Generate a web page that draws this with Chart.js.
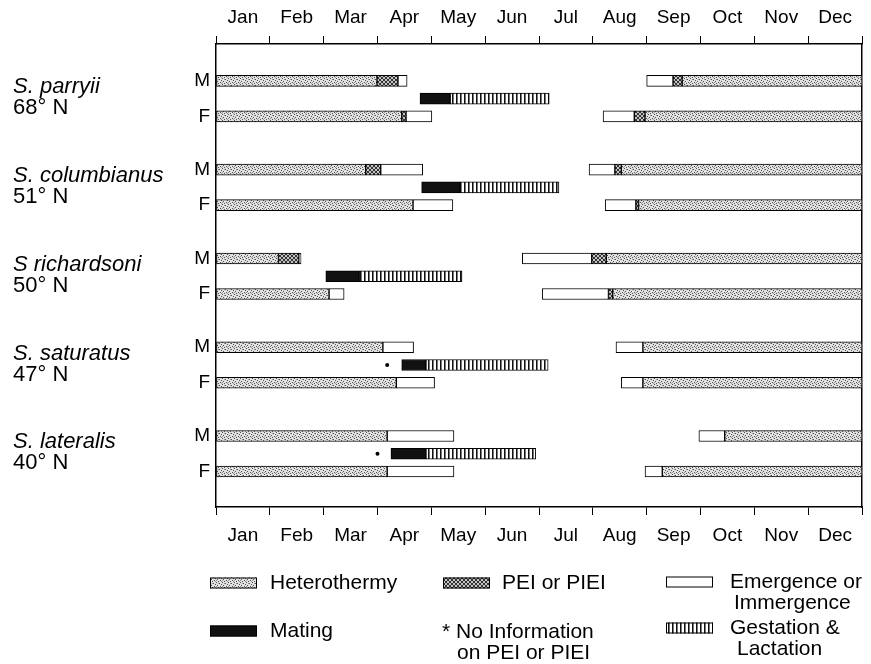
<!DOCTYPE html>
<html>
<head>
<meta charset="utf-8">
<script src="https://cdn.jsdelivr.net/npm/chart.js@4.4.1/dist/chart.umd.min.js"></script>
<style>
    html, body { margin: 0; background: #fff; }
    #wrap { width: 871px; height: 664px; position: relative; }
</style>
</head>
<body>
<div id="wrap"><canvas id="chart"></canvas></div>
<script>
const months = ["Jan", "Feb", "Mar", "Apr", "May", "Jun", "Jul", "Aug", "Sep", "Oct", "Nov", "Dec"];
const species = ["S. parryii", "S. columbianus", "S richardsoni", "S. saturatus", "S. lateralis"];
const latitudes = ["68° N", "51° N", "50° N", "47° N", "40° N"];

// [species, row, start month, end month]; row M = males, R = mating/gestation, F = females
const heterothermy = [
    [0, "M", 0, 2.99], [0, "M", 8.66, 12], [0, "F", 0, 3.45], [0, "F", 7.97, 12],
    [1, "M", 0, 2.78], [1, "M", 7.53, 12], [1, "F", 0, 3.66], [1, "F", 7.85, 12],
    [2, "M", 0, 1.16], [2, "M", 7.25, 12], [2, "F", 0, 2.10], [2, "F", 7.37, 12],
    [3, "M", 0, 3.10], [3, "M", 7.93, 12], [3, "F", 0, 3.35], [3, "F", 7.93, 12],
    [4, "M", 0, 3.18], [4, "M", 9.45, 12], [4, "F", 0, 3.18], [4, "F", 8.29, 12]
];
const pei = [
    [0, "M", 2.99, 3.38], [0, "M", 8.49, 8.66], [0, "F", 3.45, 3.53], [0, "F", 7.77, 7.97],
    [1, "M", 2.78, 3.06], [1, "M", 7.41, 7.53], [1, "F", 7.80, 7.85],
    [2, "M", 1.16, 1.54], [2, "M", 6.98, 7.25], [2, "F", 7.29, 7.37]
];
const emergence = [
    [0, "M", 3.38, 3.55], [0, "M", 8.0, 8.49], [0, "F", 3.53, 4.01], [0, "F", 7.19, 7.77],
    [1, "M", 3.06, 3.84], [1, "M", 6.93, 7.41], [1, "F", 3.66, 4.40], [1, "F", 7.23, 7.80],
    [2, "M", 1.54, 1.58], [2, "M", 5.69, 6.98], [2, "F", 2.10, 2.38], [2, "F", 6.06, 7.29],
    [3, "M", 3.10, 3.67], [3, "M", 7.43, 7.93], [3, "F", 3.35, 4.06], [3, "F", 7.53, 7.93],
    [4, "M", 3.18, 4.42], [4, "M", 8.97, 9.45], [4, "F", 3.18, 4.42], [4, "F", 7.97, 8.29]
];
const mating = [
    [0, "R", 3.79, 4.35], [1, "R", 3.82, 4.53], [2, "R", 2.04, 2.66], [3, "R", 3.45, 3.90], [4, "R", 3.25, 3.90]
];
const gestation = [
    [0, "R", 4.35, 6.19], [1, "R", 4.53, 6.37], [2, "R", 2.66, 4.57], [3, "R", 3.90, 6.17], [4, "R", 3.90, 5.94]
];
// [species, month] of the "*" marks
const noInfo = [[3, 3.18], [4, 3.0]];

const rowOffset = { M: 0, R: 1, F: 2 };
const rowValue = (s, r) => s * 5 + rowOffset[r];
const toBars = (list) => list.map(([s, r, a, b]) => ({ x: [a, b], y: rowValue(s, r) }));

const canvas = document.getElementById("chart");
const ctx = canvas.getContext("2d");

function makePattern(w, h, draw) {
    const c = document.createElement("canvas");
    c.width = w;
    c.height = h;
    draw(c.getContext("2d"));
    return ctx.createPattern(c, "repeat");
}
const dot = (g, x, y, col) => { g.fillStyle = col; g.fillRect(x, y, 1, 1); };

// stipple: scattered dots so no hatch lines appear
const hetFill = makePattern(6, 6, (g) => {
    g.fillStyle = "#e2e2e2"; g.fillRect(0, 0, 6, 6);
    [[0, 0], [3, 1], [1, 3], [4, 4], [5, 2], [2, 5]].forEach(([x, y]) => dot(g, x, y, "#505050"));
    [[2, 1], [5, 5], [0, 4]].forEach(([x, y]) => dot(g, x, y, "#999"));
});
const peiFill = makePattern(4, 4, (g) => {
    g.fillStyle = "#c4c4c4"; g.fillRect(0, 0, 4, 4);
    [[0, 0], [1, 1], [2, 2], [3, 3], [3, 0], [2, 1], [1, 2], [0, 3]].forEach(([x, y]) => dot(g, x, y, "#333"));
});
const gestFill = makePattern(4, 4, (g) => {
    g.fillStyle = "#fff"; g.fillRect(0, 0, 4, 4);
    g.fillStyle = "#111"; g.fillRect(0, 0, 1, 4);
    g.fillStyle = "#777"; g.fillRect(1, 0, 1, 4);
});

const barDefaults = {
    type: "bar",
    indexAxis: "y",
    grouped: false,
    barThickness: 11,
    borderWidth: 1,
    borderColor: "#000",
    borderSkipped: false,
    xAxisID: "x",
    yAxisID: "y"
};

const monthAxis = (position, padding, height) => ({
    type: "linear",
    position: position,
    min: 0,
    max: 12,
    afterBuildTicks: (s) => { s.ticks = months.concat([""]).map((_, i) => ({ value: i })); },
    afterFit: (s) => { s.height = height; },
    ticks: {
        autoSkip: false,
        maxRotation: 0,
        labelOffset: 26.9,
        padding: padding,
        color: "#000",
        font: { size: 19 },
        callback: (v) => months[v] ?? ""
    },
    grid: { drawOnChartArea: false, drawTicks: true, tickLength: 8, color: "#000", lineWidth: 1 },
    border: { display: true, color: "#000", width: 1.5 }
});

const decorPlugin = {
    id: "decor",
    afterDraw(chart) {
        const { ctx: c, scales: { x, y } } = chart;
        c.save();
        c.fillStyle = "#000";
        c.textAlign = "left";
        c.textBaseline = "alphabetic";
        species.forEach((name, i) => {
            const py = y.getPixelForValue(rowValue(i, "M"));
            c.font = "italic 22px 'Liberation Sans', Arial, sans-serif";
            c.fillText(name, 13, py + 12.5);
            c.font = "22px 'Liberation Sans', Arial, sans-serif";
            c.fillText(latitudes[i], 13, py + 33.5);
        });

        noInfo.forEach(([s, m]) => {
            c.beginPath();
            c.arc(x.getPixelForValue(m), y.getPixelForValue(rowValue(s, "R")), 2, 0, Math.PI * 2);
            c.fill();
        });

        // legend
        const items = [
            { fill: hetFill, sx: 210, y: 583, lines: [["Heterothermy", 270]] },
            { fill: peiFill, sx: 443, y: 583, lines: [["PEI or PIEI", 502]] },
            { fill: "#fff", sx: 666, y: 582, lines: [["Emergence or", 730], ["Immergence", 734]] },
            { fill: "#111", sx: 210, y: 631, lines: [["Mating", 270]] },
            { fill: null, sx: 0, y: 632, lines: [["* No Information", 442], ["on PEI or PIEI", 457]] },
            { fill: gestFill, sx: 666, y: 628, lines: [["Gestation &", 730], ["Lactation", 737]] }
        ];
        c.font = "21px 'Liberation Sans', Arial, sans-serif";
        c.textBaseline = "middle";
        items.forEach((it) => {
            if (it.fill) {
                c.fillStyle = it.fill;
                c.fillRect(it.sx, it.y - 5.5, 47, 11);
                c.strokeStyle = "#000";
                c.lineWidth = 1;
                c.strokeRect(it.sx + 0.5, it.y - 5, 46, 10);
            }
            c.fillStyle = "#000";
            it.lines.forEach(([t, tx], k) => c.fillText(t, tx, it.y + k * 21));
        });
        c.restore();
    }
};

Chart.defaults.font.family = "'Liberation Sans', Arial, sans-serif";
Chart.defaults.color = "#000";

new Chart(canvas, {
    type: "bar",
    data: {
        datasets: [
            { ...barDefaults, label: "Heterothermy", data: toBars(heterothermy), backgroundColor: hetFill },
            { ...barDefaults, label: "PEI or PIEI", data: toBars(pei), backgroundColor: peiFill },
            { ...barDefaults, label: "Emergence or Immergence", data: toBars(emergence), backgroundColor: "#fff" },
            { ...barDefaults, label: "Mating", data: toBars(mating), backgroundColor: "#111" },
            { ...barDefaults, label: "Gestation & Lactation", data: toBars(gestation), backgroundColor: gestFill }
        ]
    },
    options: {
        indexAxis: "y",
        responsive: true,
        maintainAspectRatio: false,
        animation: false,
        layout: { padding: { top: 0, left: 0, right: 0, bottom: 112 } },
        plugins: { legend: { display: false }, tooltip: { enabled: false } },
        scales: {
            x: monthAxis("bottom", 9, 45),
            x2: monthAxis("top", 7, 44),
            y: {
                type: "linear",
                position: "left",
                offset: false,
                min: -2.08,
                max: 24,
                reverse: true,
                afterBuildTicks: (s) => {
                    s.ticks = species.flatMap((_, i) => [{ value: rowValue(i, "M") }, { value: rowValue(i, "F") }]);
                },
                afterFit: (s) => { s.width = 216; },
                ticks: {
                    autoSkip: false,
                    padding: 6,
                    color: "#000",
                    font: { size: 19 },
                    callback: (v) => (v % 5 === 0 ? "M" : "F")
                },
                grid: { display: false, drawTicks: false },
                border: { display: true, color: "#000", width: 1.5 }
            },
            yRight: {
                type: "linear",
                position: "right",
                min: 0,
                max: 1,
                afterFit: (s) => { s.width = 9; },
                ticks: { display: false },
                grid: { display: false, drawTicks: false },
                border: { display: true, color: "#000", width: 1.5 }
            }
        }
    },
    plugins: [decorPlugin]
});
</script>
</body>
</html>
